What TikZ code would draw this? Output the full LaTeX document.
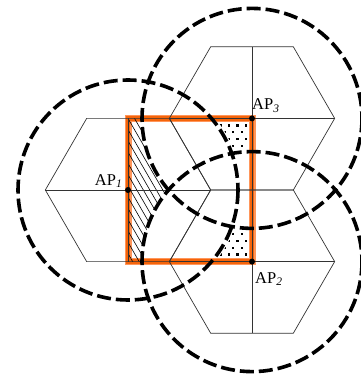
\documentclass[tikz,border=0pt]{standalone}
\usepackage{fontspec}
\setmainfont{Liberation Serif}
\begin{document}
\begin{tikzpicture}[x=1pt,y=-1pt,
  hexline/.style={line width=0.7pt, draw=black!80},
  cover/.style={line width=3.6pt, dash pattern=on 14pt off 5pt},
  apdot/.style={circle, fill=black, inner sep=0pt, minimum size=6pt},
  aplabel/.style={inner sep=0pt, font=\fontsize{16.5}{18}\selectfont},
  orangeout/.style={line width=7pt, draw={rgb,255:red,255;green,150;blue,90}},
  orangein/.style={line width=4.5pt, draw={rgb,255:red,245;green,100;blue,10}},
  hatchline/.style={line width=0.6pt, draw=black},
]
\useasboundingbox (0,0) rectangle (360,379);
\def\R{82.67}
\def\H{71.6}
\coordinate (c1) at (128,190);
\coordinate (c3) at (252,118.4);
\coordinate (c2) at (252,261.6);

% orange rectangle
\draw[orangeout] (c1 |- c3) rectangle (c2);
\draw[orangein] (c1 |- c3) rectangle (c2);

% hatching: inside rectangle, outside circles of AP2 and AP3
\begin{scope}[even odd rule]
  \clip (c1 |- c3) rectangle (c2);
  \begin{scope}[even odd rule]
  \clip (-10,-10) rectangle (380,400) (c3) circle (110);
  \begin{scope}[even odd rule]
  \clip (-10,-10) rectangle (380,400) (c2) circle (110);
  \foreach \i in {-16,...,20} {
    \draw[hatchline] (128+\i*6.5,118.4) -- ++(100,173.2);
  }
  \end{scope}
  \end{scope}
\end{scope}

% dotted region near AP3
\begin{scope}[even odd rule]
  \clip (131,122) rectangle (249,258);
  \begin{scope}[even odd rule]
  \clip (-10,-10) rectangle (380,400) (c1) circle (113);
  \begin{scope}[even odd rule]
  \clip (-10,-10) rectangle (380,400) (c2) circle (113);
  \foreach \r in {0,...,4} {
    \foreach \k in {0,...,5} {
      \pgfmathsetmacro{\xx}{246-\k*8.5-mod(\r,2)*4.25}
      \pgfmathsetmacro{\yy}{125.5+\r*6.8}
      \fill (\xx-1.2,\yy-1.2) rectangle ++(2.4,2.4);
    }
  }
  \end{scope}
  \end{scope}
\end{scope}

% dotted region near AP2
\begin{scope}[even odd rule]
  \clip (131,122) rectangle (249,258);
  \begin{scope}[even odd rule]
  \clip (-10,-10) rectangle (380,400) (c1) circle (113);
  \begin{scope}[even odd rule]
  \clip (-10,-10) rectangle (380,400) (c3) circle (113);
  \foreach \r in {0,...,4} {
    \foreach \k in {0,...,5} {
      \pgfmathsetmacro{\xx}{246-\k*8.5-mod(\r,2)*4.25}
      \pgfmathsetmacro{\yy}{254.5-\r*6.8}
      \fill (\xx-1.2,\yy-1.2) rectangle ++(2.4,2.4);
    }
  }
  \end{scope}
  \end{scope}
\end{scope}

% hexagons
\foreach \c in {c1,c2,c3} {
  \begin{scope}[shift={(\c)}]
    \draw[hexline] (\R,0) -- (\R/2,-\H) -- (-\R/2,-\H) -- (-\R,0)
      -- (-\R/2,\H) -- (\R/2,\H) -- cycle;
    \draw[hexline] (-\R,0) -- (\R,0);
    \draw[hexline] (0,-\H) -- (0,\H);
  \end{scope}
}

% coverage circles
\draw[cover] (c1) circle (110);
\draw[cover] (c3) circle (110);
\draw[cover] (c2) circle (110);

% access points
\node[apdot] (ap1) at (c1) {};
\node[apdot] (ap3) at (c3) {};
\node[apdot] (ap2) at (c2) {};

\node[aplabel, anchor=base east] (l1) at (122,185)
  {AP\raisebox{-2.5pt}{\fontsize{11.5}{11}\selectfont\itshape 1}};
\node[aplabel, anchor=base west] (l3) at (252,109.5)
  {AP\raisebox{-3pt}{\fontsize{11.5}{11}\selectfont\itshape 3}};
\node[aplabel, anchor=base west] (l2) at (255,283)
  {AP\raisebox{-2.5pt}{\fontsize{11.5}{11}\selectfont\itshape 2}};
\end{tikzpicture}
\end{document}
